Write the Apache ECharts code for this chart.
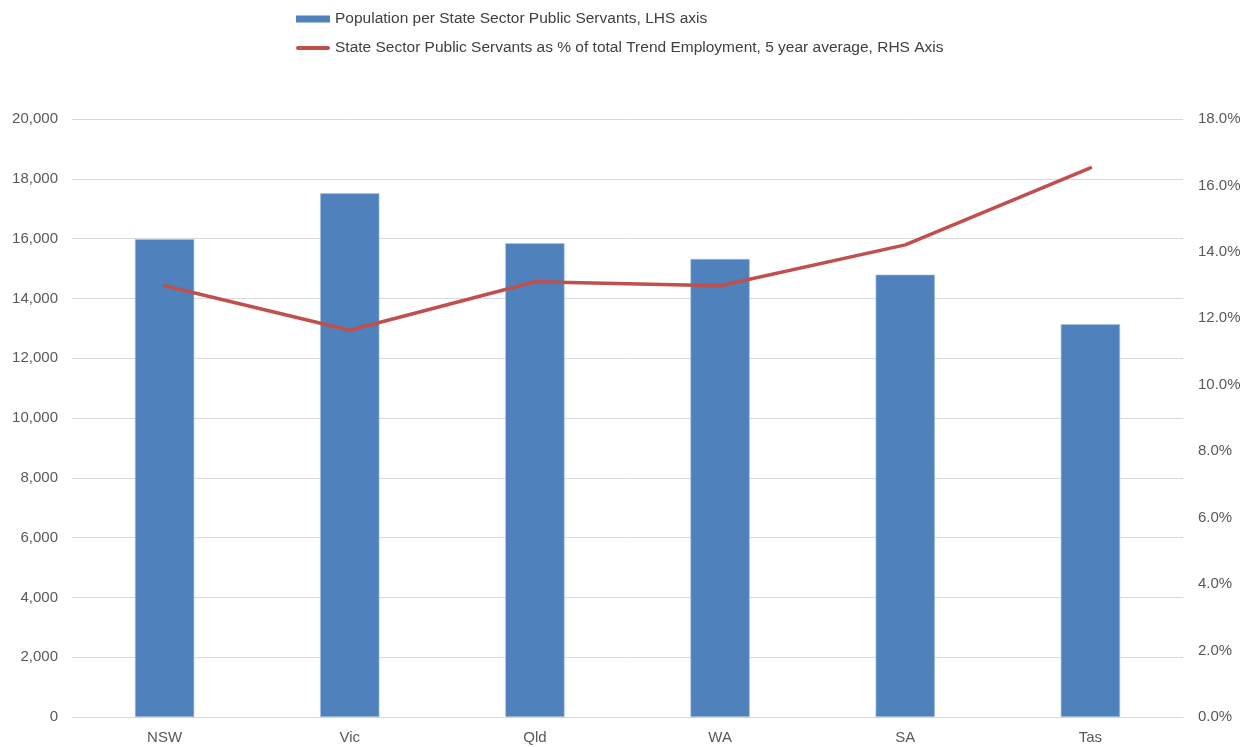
<!DOCTYPE html>
<html>
<head>
<meta charset="utf-8">
<script src="https://cdn.jsdelivr.net/npm/echarts@6/dist/echarts.min.js"></script>
<style>
  html, body { margin: 0; padding: 0; background: #fff; }
  #chart { width: 1250px; height: 747px; }
</style>
</head>
<body>
<div id="chart"></div>
<script>
// States and territories along the category axis
const states = ['NSW', 'Vic', 'Qld', 'WA', 'SA', 'Tas'];
// Population per state sector public servant (left axis)
const popPerServant = [15980, 17515, 15845, 15320, 14795, 13135];
// Public servants as % of total trend employment, 5 year average (right axis)
const servantShare = [12.98, 11.64, 13.10, 12.98, 14.21, 16.53];

const barName = 'Population per State Sector Public Servants, LHS axis';
const lineName = 'State Sector Public Servants as % of total Trend Employment, 5 year average, RHS Axis';

const textColor = '#595959';
const font = 'Liberation Sans, Arial, sans-serif';

const chart = echarts.init(document.getElementById('chart'), null, { renderer: 'canvas' });
chart.setOption({
  animation: false,
  backgroundColor: '#ffffff',
  textStyle: { fontFamily: font },
  legend: {
    orient: 'vertical',
    left: 291,
    top: 6,
    itemWidth: 34,
    itemHeight: 7,
    itemGap: 13,
    itemStyle: { borderWidth: 0 },
    textStyle: { fontSize: 15.5, color: '#404040', fontFamily: font, padding: [0, 0, 0, 0] },
    data: [
      { name: barName, icon: 'rect' },
      { name: lineName, icon: 'path://M2,0 L32,0 A2,2 0 0 1 32,4 L2,4 A2,2 0 0 1 2,0 Z' }
    ]
  },
  grid: { left: 72, right: 67, top: 119, bottom: 30, containLabel: false },
  xAxis: {
    type: 'category',
    data: states,
    axisLine: { lineStyle: { color: '#D9D9D9', width: 1 } },
    axisTick: { show: false },
    axisLabel: { color: textColor, fontSize: 15, margin: 13, fontFamily: font }
  },
  yAxis: [
    {
      type: 'value',
      min: 0, max: 20000, interval: 2000,
      axisLine: { show: false },
      axisTick: { show: false },
      splitLine: { lineStyle: { color: '#D9D9D9', width: 1 } },
      axisLabel: {
        color: textColor, fontSize: 15, margin: 14, fontFamily: font,
        formatter: v => v.toLocaleString('en-US')
      }
    },
    {
      type: 'value',
      min: 0, max: 18, interval: 2,
      position: 'right',
      axisLine: { show: false },
      axisTick: { show: false },
      splitLine: { show: false },
      axisLabel: {
        color: textColor, fontSize: 15, margin: 15, fontFamily: font,
        formatter: v => v.toFixed(1) + '%'
      }
    }
  ],
  series: [
    {
      name: barName,
      type: 'bar',
      yAxisIndex: 0,
      data: popPerServant,
      barWidth: '32%',
      itemStyle: { color: '#4F81BD', borderColor: '#A9C2E2', borderWidth: 0.6 }
    },
    {
      name: lineName,
      type: 'line',
      yAxisIndex: 1,
      data: servantShare,
      symbol: 'none',
      lineStyle: { color: '#C0504D', width: 3.5, cap: 'round', join: 'round' },
      itemStyle: { color: '#C0504D' }
    }
  ]
});
</script>
</body>
</html>
